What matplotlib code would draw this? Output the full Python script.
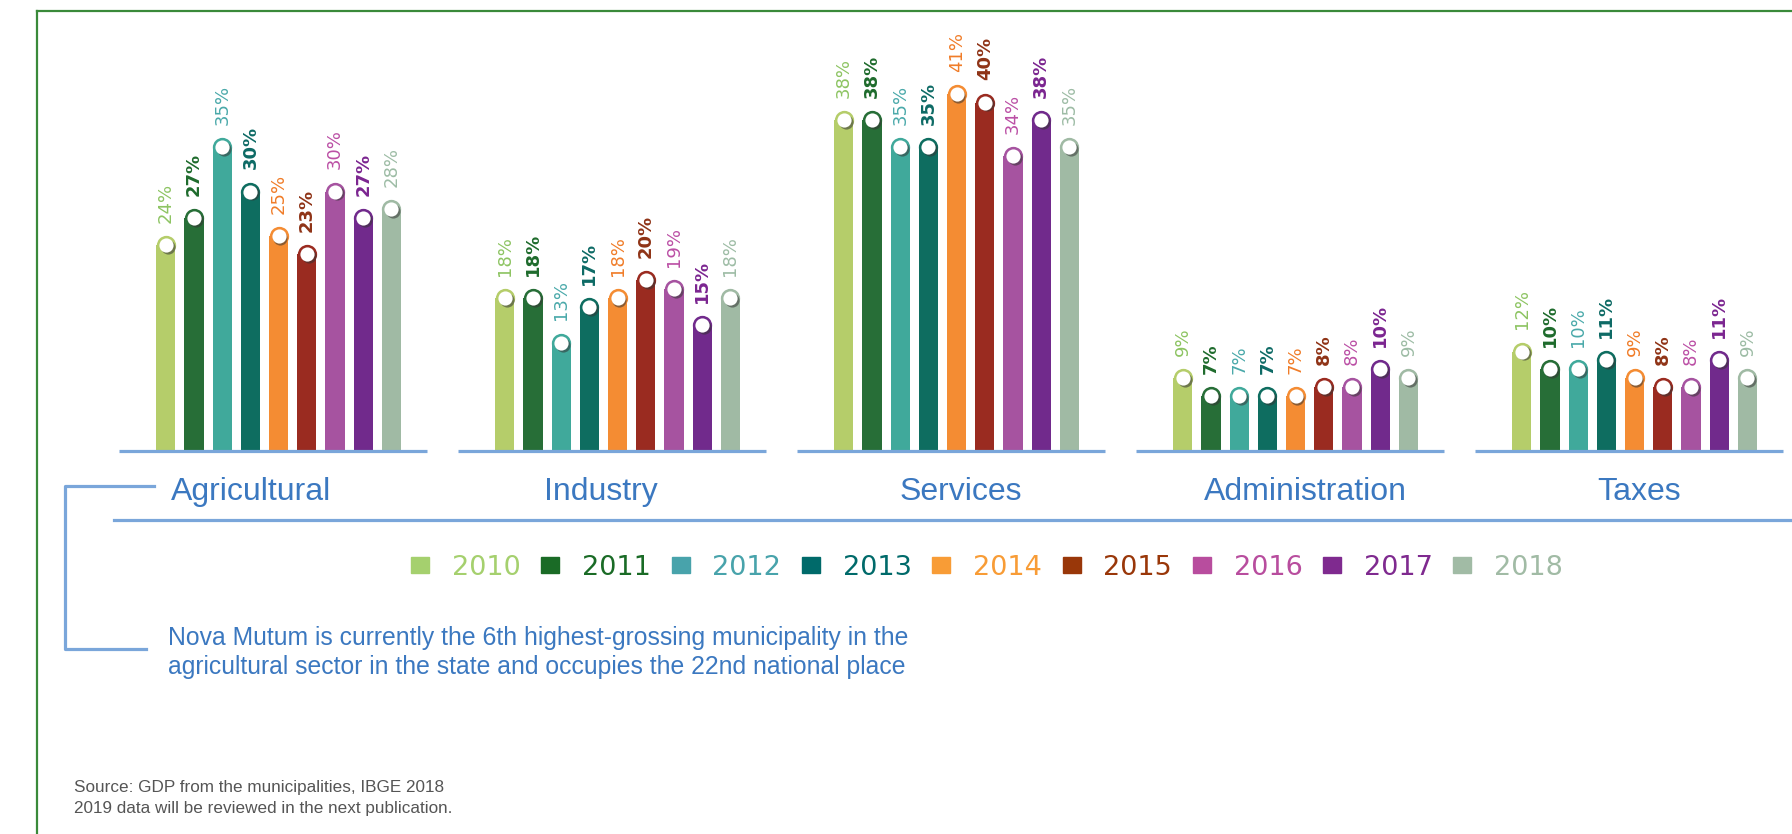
import matplotlib
matplotlib.use("Agg")
import matplotlib.pyplot as plt
import matplotlib.transforms as mtransforms
from matplotlib.patches import Rectangle
from matplotlib.lines import Line2D
import numpy as np

# data
sectors = ["Agricultural", "Industry", "Services", "Administration", "Taxes"]
years = ["2010", "2011", "2012", "2013", "2014", "2015", "2016", "2017", "2018"]
agricultural = [24, 27, 35, 30, 25, 23, 30, 27, 28]
industry = [18, 18, 13, 17, 18, 20, 19, 15, 18]
services = [38, 38, 35, 35, 41, 40, 34, 38, 35]
administration = [9, 7, 7, 7, 7, 8, 8, 10, 9]
taxes = [12, 10, 10, 11, 9, 8, 8, 11, 9]
values = np.array([agricultural, industry, services, administration, taxes])

bar_colors = ["#b5cd6a", "#276e37", "#40a99b", "#0e6d60", "#f48c33",
              "#9a2b20", "#a653a0", "#712a8c", "#a0baa4"]
label_colors = ["#8dc462", "#1e6b2c", "#4aa9aa", "#0d6a65", "#f07c28",
                "#8f3316", "#bb4fa5", "#7b2590", "#9dbca5"]
legend_colors = ["#a5d06e", "#1a6b26", "#48a3ab", "#006a6a", "#f89c36",
                 "#993709", "#b84d9e", "#7f2a8f", "#a1bba5"]

note = ["Nova Mutum is currently the 6th highest-grossing municipality in the",
        "agricultural sector in the state and occupies the 22nd national place"]
source = ["Source: GDP from the municipalities, IBGE 2018",
          "2019 data will be reviewed in the next publication."]

W, H = 1792, 834
fig = plt.figure(figsize=(W / 100, H / 100), dpi=100)
fig.patch.set_facecolor("white")


def fx(x):
    return x / W


def fy(y):
    return 1 - y / H


blue = "#7aa6da"
text_blue = "#3b78c0"

# bar axes: baseline at y=451px, 8.89 px per percent
base_px, top_px = 451, 40
y0 = 0.82
ax = fig.add_axes([0, fy(base_px), 1, (base_px - top_px) / H])
ax.set_ylim(y0, y0 + (base_px - top_px) / 8.89)
g0, gstep = 278.6, 339.0
ax.set_xlim(-g0 / gstep, (W - g0) / gstep)
ax.axis("off")

step = 28.2 / gstep
width = 19.3 / gstep
n = len(years)
shadow = mtransforms.offset_copy(ax.transData, fig=fig, x=1.8, y=-1.8, units="dots")
label_shift = [-27.6, -16.6, 4.4, 9.4, 4.4]  # px, sector label nudge

for g in range(len(sectors)):
    xs = g + (np.arange(n) - (n - 1) / 2) * step
    for i in range(n):
        v = values[g, i]
        ax.bar(xs[i], v, width=width, color=bar_colors[i], zorder=2)
        ax.scatter(xs[i], v, s=13.9 ** 2, color=bar_colors[i], lw=0, zorder=3)
        ax.scatter(xs[i], v, s=10.2 ** 2, color="#333333", alpha=0.55, lw=0,
                   zorder=4, transform=shadow)
        ax.scatter(xs[i], v, s=10.2 ** 2, color="white", lw=0, zorder=5)
        ax.annotate(f"{v}%", (xs[i], v), xytext=(0, 16), textcoords="offset points",
                    rotation=90, ha="center", va="bottom", fontsize=13,
                    fontweight="bold" if i % 2 else "normal",
                    color=label_colors[i])
    # group baseline
    ax.hlines(y0, g - 0.0177 - 0.4543, g - 0.0177 + 0.4543, color=blue, lw=2.3,
              clip_on=False, zorder=6)
    xt = fx(g0 + gstep * g + label_shift[g])
    fig.text(xt, fy(500), sectors[g], ha="center", va="baseline",
             fontsize=23, family="Liberation Sans", color=text_blue)

# frame and guide lines
lines = [
    ([fx(37), fx(W)], [fy(11), fy(11)], "#3a8a3a", 1.6),
    ([fx(37), fx(37)], [fy(11), fy(H)], "#3a8a3a", 1.6),
    ([fx(114), fx(W)], [fy(520), fy(520)], blue, 2.3),
    ([fx(154), fx(65), fx(65), fx(146)], [fy(486), fy(486), fy(649), fy(649)], blue, 2.3),
]
for xd, yd, c, lw in lines:
    fig.add_artist(Line2D(xd, yd, color=c, lw=lw, transform=fig.transFigure))

# legend
for i, yr in enumerate(years):
    left = 411 + 130.3 * i
    fig.add_artist(Rectangle((fx(left), fy(573.3)), 18 / W, 16.7 / H,
                             color=legend_colors[i], transform=fig.transFigure))
    fig.text(fx(left + 40.7), fy(575), yr, ha="left", va="baseline",
             fontsize=19.5, color=legend_colors[i])

# note text
for k, line in enumerate(note):
    fig.text(fx(168), fy(645 + 28.6 * k), line, ha="left", va="baseline",
             fontsize=17.8, family="Liberation Sans", color=text_blue)

for k, line in enumerate(source):
    fig.text(fx(74), fy(792 + 21.5 * k), line, ha="left", va="baseline",
             fontsize=12.3, family="Liberation Sans", color="#555555")

fig.savefig("out.png", dpi=100, facecolor="white")
